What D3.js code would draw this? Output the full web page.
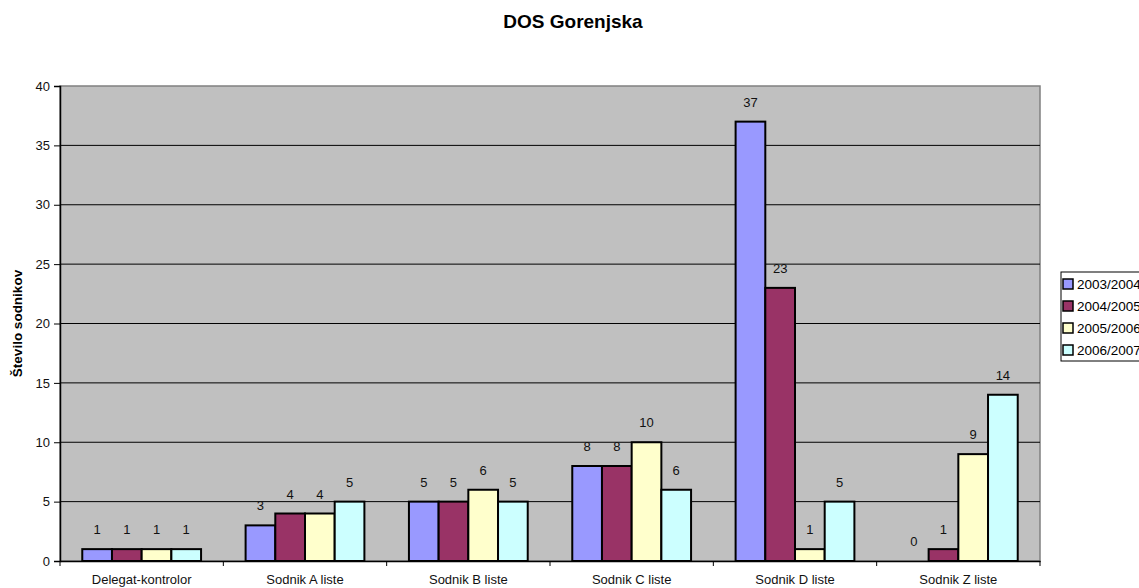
<!DOCTYPE html>
<html>
<head>
<meta charset="utf-8">
<script src="https://cdn.jsdelivr.net/npm/d3@7"></script>
<style>
  body { margin: 0; background: #fff; }
  text { font-family: "Liberation Sans", Arial, sans-serif; }
</style>
</head>
<body>
<svg id="chart" width="1139" height="588"></svg>
<script>
const categories = ["Delegat-kontrolor", "Sodnik A liste", "Sodnik B liste", "Sodnik C liste", "Sodnik D liste", "Sodnik Z liste"]
const seasons = ["2003/2004", "2004/2005", "2005/2006", "2006/2007"]
const colors = ["#9999FF", "#993366", "#FFFFCC", "#CCFFFF"]

const s2003 = [1, 3, 5, 8, 37, 0]
const s2004 = [1, 4, 5, 8, 23, 1]
const s2005 = [1, 4, 6, 10, 1, 9]
const s2006 = [1, 5, 5, 6, 5, 14]
const series = [s2003, s2004, s2005, s2006]

const yTicks = [0, 5, 10, 15, 20, 25, 30, 35, 40]

const svg = d3.select("#chart")

const plotLeft = 60, plotRight = 1040, plotTop = 86, plotBottom = 561

const x = d3.scaleBand()
    .domain(categories)
    .range([plotLeft, plotRight])
    .paddingInner(0)

// Excel gap width 150% -> 1.5 bar widths split over both sides
const barW = x.bandwidth() / 5.5
const xs = d3.scaleBand()
    .domain(seasons)
    .range([barW * 0.75, x.bandwidth() - barW * 0.75])

const y = d3.scaleLinear()
    .domain([0, 40])
    .range([plotBottom, plotTop])

// plot area
svg.append("rect")
    .attr("x", plotLeft).attr("y", plotTop)
    .attr("width", plotRight - plotLeft).attr("height", plotBottom - plotTop)
    .attr("fill", "#C0C0C0")
    .attr("stroke", "#808080")
    .attr("stroke-width", 1.5)

// gridlines
svg.append("g")
  .selectAll("line")
  .data(yTicks.slice(1, -1))
  .enter().append("line")
    .attr("x1", plotLeft).attr("x2", plotRight)
    .attr("y1", d => y(d)).attr("y2", d => y(d))
    .attr("stroke", "#000")
    .attr("stroke-width", 1)

// bars
const groups = svg.append("g")
  .selectAll("g")
  .data(series)
  .enter().append("g")
    .attr("fill", (d, i) => colors[i])

groups.selectAll("rect")
  .data((d, i) => d.map((v, j) => ({ v: v, cat: categories[j], s: seasons[i] })))
  .enter().append("rect")
    .filter(d => d.v > 0)
    .attr("x", d => x(d.cat) + xs(d.s))
    .attr("y", d => y(d.v))
    .attr("width", xs.bandwidth())
    .attr("height", d => y(0) - y(d.v))
    .attr("stroke", "#000")
    .attr("stroke-width", 2)

// value labels
svg.append("g")
  .selectAll("text")
  .data(series.flatMap((d, i) => d.map((v, j) => ({ v: v, cat: categories[j], s: seasons[i] }))))
  .enter().append("text")
    .attr("x", d => x(d.cat) + xs(d.s) + xs.bandwidth() / 2)
    .attr("y", d => y(d.v) - 15)
    .attr("text-anchor", "middle")
    .attr("font-size", 13)
    .attr("fill", "#111")
    .text(d => d.v)

// y axis
const yAxis = svg.append("g")
    .attr("transform", "translate(" + plotLeft + ",0)")
    .call(d3.axisLeft(y).tickValues(yTicks).tickSize(6).tickPadding(4))
yAxis.selectAll("text").attr("font-size", 13).attr("font-family", "Liberation Sans, Arial, sans-serif").attr("fill", "#111")
yAxis.select(".domain").attr("stroke-width", 1.5)

// x axis
const xAxis = svg.append("g")
    .attr("transform", "translate(0," + plotBottom + ")")
    .call(d3.axisBottom(x).tickSize(0).tickPadding(14))
xAxis.selectAll("text").attr("font-size", 13).attr("font-family", "Liberation Sans, Arial, sans-serif").attr("fill", "#111")
xAxis.select(".domain").attr("stroke-width", 1.5)
xAxis.append("g")
  .selectAll("line")
  .data(categories.map(c => x(c)).concat([plotRight]))
  .enter().append("line")
    .attr("x1", d => d).attr("x2", d => d)
    .attr("y1", 0).attr("y2", 5)
    .attr("stroke", "#000")

// title
svg.append("text")
    .attr("x", 573).attr("y", 28)
    .attr("text-anchor", "middle")
    .attr("font-size", 19)
    .attr("font-weight", "bold")
    .text("DOS Gorenjska")

// y axis title
svg.append("text")
    .attr("transform", "translate(22," + ((plotTop + plotBottom) / 2) + ") rotate(-90)")
    .attr("text-anchor", "middle")
    .attr("font-size", 13.5)
    .attr("font-weight", "bold")
    .text("Število sodnikov")

// legend
const legend = svg.append("g")
    .attr("transform", "translate(1061,272)")
legend.append("rect")
    .attr("width", 95).attr("height", 89)
    .attr("fill", "#fff")
    .attr("stroke", "#000")
legend.selectAll("g")
  .data(seasons)
  .enter().append("g")
    .attr("transform", (d, i) => "translate(2," + (12 + i * 22) + ")")
    .each(function(d, i) {
      const g = d3.select(this)
      g.append("rect")
          .attr("x", 0).attr("y", -5)
          .attr("width", 10).attr("height", 10)
          .attr("fill", colors[i])
          .attr("stroke", "#000")
          .attr("stroke-width", 1.5)
      g.append("text")
          .attr("x", 14).attr("y", 5)
          .attr("font-size", 13.5)
          .text(d)
    })
</script>
</body>
</html>
